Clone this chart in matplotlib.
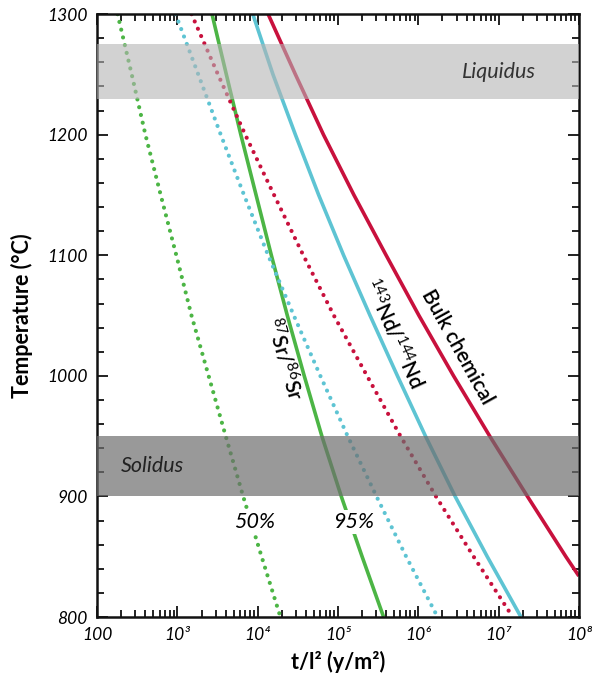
import matplotlib.pyplot as plt
from matplotlib.ticker import MultipleLocator, LogLocator, NullFormatter, FixedLocator

plt.rcParams['font.family'] = ['Lato', 'DejaVu Sans']
plt.rcParams['mathtext.fontset'] = 'custom'
plt.rcParams['mathtext.rm'] = 'Lato'
plt.rcParams['mathtext.it'] = 'Lato:italic'
plt.rcParams['mathtext.bf'] = 'Lato:bold'

# temperatures (deg C) at which each curve was read
temps = [1300, 1250, 1200, 1150, 1100, 1050, 1000, 950, 900, 850, 800]

# t/l^2 (y/m^2) for each curve at the temperatures above
sr_50 = [1.8e2, 2.7e2, 4.0e2, 6.2e2, 9.7e2, 1.5e3, 2.45e3, 4.0e3, 6.6e3, 1.12e4, 1.92e4]
sr_95 = [2.7e3, 4.07e3, 6.17e3, 9.55e3, 1.48e4, 2.34e4, 3.8e4, 6.3e4, 1.1e5, 2.0e5, 3.7e5]
nd_50 = [9.5e2, 1.82e3, 3.47e3, 6.76e3, 1.35e4, 2.82e4, 6.03e4, 1.32e5, 3.02e5, 7.08e5, 1.74e6]
nd_95 = [8.7e3, 1.55e4, 2.95e4, 5.75e4, 1.175e5, 2.51e5, 5.5e5, 1.23e6, 2.88e6, 7.24e6, 1.9e7]
bulk_50 = [1.5e3, 3.2e3, 7.0e3, 1.6e4, 3.7e4, 8.9e4, 2.3e5, 6.0e5, 1.66e6, 4.9e6, 1.5e7]
bulk_95_t = [1300, 1250, 1200, 1150, 1100, 1050, 1000, 950, 900, 850, 834]
bulk_95 = [1.35e4, 2.95e4, 6.6e4, 1.58e5, 3.98e5, 1.02e6, 2.75e6, 7.76e6, 2.29e7, 6.9e7, 1.0e8]

liquidus = (1230, 1275)
solidus = (900, 950)

xticks = [1e2, 1e3, 1e4, 1e5, 1e6, 1e7, 1e8]
xticklabels = ['100', '10³', '10⁴', '10⁵', '10⁶', '10⁷', '10⁸']
yticks = [800, 900, 1000, 1100, 1200, 1300]

green = '#4cb545'
cyan = '#5ec4d3'
red = '#c8113d'


def main():
    fig = plt.figure(figsize=(6.03, 6.77), dpi=100)
    ax = fig.add_axes([0.161, 0.0886, 0.799, 0.8905])

    dot = dict(linewidth=3.0, linestyle=(0, (0.01, 1.9)), dash_capstyle='round')
    solid = dict(linewidth=2.6, solid_capstyle='butt')

    ax.plot(sr_50, temps, color=green, **dot)
    ax.plot(sr_95, temps, color=green, **solid)
    ax.plot(nd_50, temps, color=cyan, **dot)
    ax.plot(nd_95, temps, color=cyan, **solid)
    ax.plot(bulk_50, temps, color=red, **dot)
    ax.plot(bulk_95, bulk_95_t, color=red, **solid)

    # gray bands drawn over the lines
    ax.axhspan(*liquidus, color='#b4b4b4', alpha=0.6, lw=0, zorder=3)
    ax.axhspan(*solidus, color='#6e6e6e', alpha=0.7, lw=0, zorder=3)

    ax.text(1.0e7, 1252, 'Liquidus', style='italic', fontsize=15.5,
            color='#333333', ha='center', va='center', zorder=4)
    ax.text(4.85e2, 925, 'Solidus', style='italic', fontsize=15.5,
            color='#222222', ha='center', va='center', zorder=4)

    box = dict(facecolor='white', edgecolor='none', pad=1.5)
    ax.text(9.1e3, 879, '50%', style='italic', fontsize=15.5,
            ha='center', va='center', bbox=box, zorder=4)
    ax.text(1.55e5, 879, '95%', style='italic', fontsize=15.5,
            ha='center', va='center', bbox=box, zorder=4)

    lab = dict(fontsize=15, fontweight='semibold', ha='center', va='center',
               rotation_mode='anchor')
    ax.text(2.1e4, 1014, r'$^{87}$Sr/$^{86}$Sr', rotation=-74, **lab)
    ax.text(5.0e5, 1035, r'$^{143}$Nd/$^{144}$Nd', rotation=-66, **lab)
    ax.text(3.1e6, 1024, 'Bulk chemical', rotation=-61, **lab)

    ax.set_xscale('log')
    ax.set_xlim(1e2, 1e8)
    ax.set_ylim(800, 1300)

    ax.xaxis.set_major_locator(FixedLocator(xticks))
    ax.set_xticklabels(xticklabels, style='italic', fontsize=12.5)
    ax.xaxis.set_minor_locator(LogLocator(base=10, subs=range(2, 10), numticks=20))
    ax.xaxis.set_minor_formatter(NullFormatter())
    ax.set_yticks(yticks)
    ax.set_yticklabels([str(t) for t in yticks], style='italic', fontsize=12.5)
    ax.yaxis.set_minor_locator(MultipleLocator(20))

    ax.tick_params(which='both', direction='in', top=True, right=True,
                   width=1.3, color='#111111')
    ax.tick_params(which='major', length=8, pad=7)
    ax.tick_params(which='minor', length=5)
    for s in ax.spines.values():
        s.set_linewidth(1.8)
        s.set_color('#111111')

    ax.set_ylabel('Temperature (°C)', fontsize=15.5, fontweight='bold', labelpad=10)
    ax.set_xlabel('t/l² (y/m²)', fontsize=15.5, fontweight='bold', labelpad=6)

    fig.savefig('out.png', dpi=100)


if __name__ == '__main__':
    main()
